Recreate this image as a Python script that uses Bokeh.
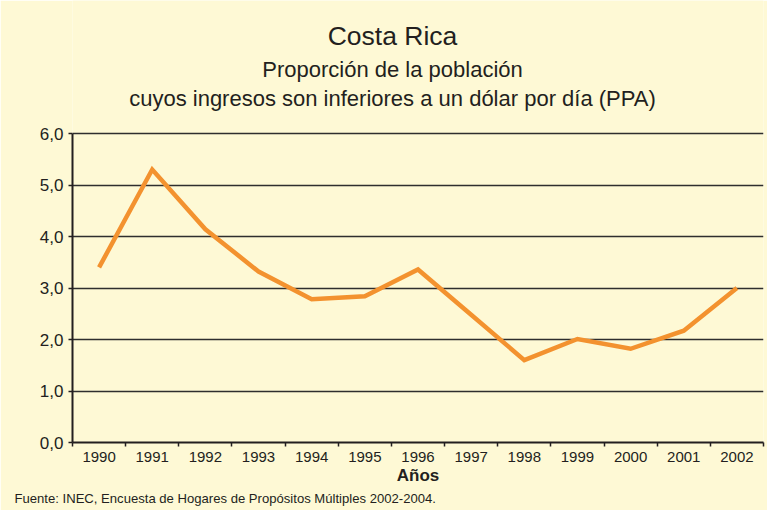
from bokeh.plotting import figure
from bokeh.models import FixedTicker, Range1d, Title, Label
from bokeh.embed import file_html
from bokeh.resources import INLINE

years = ["1990", "1991", "1992", "1993", "1994", "1995", "1996",
         "1997", "1998", "1999", "2000", "2001", "2002"]
values = [3.40, 5.30, 4.14, 3.32, 2.78, 2.84, 3.36, 2.48, 1.60, 2.01, 1.82, 2.17, 3.00]
y_ticks = [0, 1, 2, 3, 4, 5, 6]
y_tick_labels = ["0,0", "1,0", "2,0", "3,0", "4,0", "5,0", "6,0"]

title = "Costa Rica"
subtitle1 = "Proporción de la población"
subtitle2 = "cuyos ingresos son inferiores a un dólar por día (PPA)"
x_label = "Años"
source_note = "Fuente: INEC, Encuesta de Hogares de Propósitos Múltiples 2002-2004."

BG = "#FEF9D5"
INK = "#231f20"
FONT = "Liberation Sans"

idx = list(range(len(years)))

# frame spans the full height above the axis; the space above 6,0 holds the titles
FRAME_BOTTOM = 442
AXIS_TOP_PX = 133
y_top = 6 + 6 * AXIS_TOP_PX / (FRAME_BOTTOM - AXIS_TOP_PX)

p = figure(width=767, height=510,
           x_range=Range1d(-0.5, len(years) - 0.5),
           y_range=Range1d(0, y_top),
           output_backend="svg", toolbar_location=None,
           min_border_left=72, min_border_right=4,
           min_border_top=0, min_border_bottom=68)

p.background_fill_color = BG
p.border_fill_color = BG
p.outline_line_color = None

p.line(idx, values, line_color="#F3922F", line_width=4.5, line_join="miter")

# x axis
p.xaxis.ticker = FixedTicker(ticks=idx, minor_ticks=[i - 0.5 for i in range(len(years) + 1)])
p.xaxis.major_label_overrides = {i: y for i, y in enumerate(years)}
p.xaxis.major_tick_out = 0
p.xaxis.major_tick_in = 0
p.xaxis.minor_tick_out = 4
p.xaxis.minor_tick_in = 0
p.xaxis.minor_tick_line_color = INK
p.xaxis.minor_tick_line_width = 1.5
p.xaxis.major_label_standoff = 5
p.xaxis.major_label_text_font = FONT
p.xaxis.major_label_text_font_size = "15px"
p.xaxis.major_label_text_color = INK
p.xaxis.axis_label = x_label
p.xaxis.axis_label_text_font = FONT
p.xaxis.axis_label_text_font_style = "bold"
p.xaxis.axis_label_text_font_size = "17px"
p.xaxis.axis_label_text_color = INK
p.xaxis.axis_label_standoff = 1
p.xaxis.axis_line_color = INK
p.xaxis.axis_line_width = 2

# y axis
p.yaxis.ticker = FixedTicker(ticks=y_ticks, minor_ticks=[])
p.yaxis.bounds = (y_ticks[0], y_ticks[-1])
p.yaxis.major_label_overrides = {t: l for t, l in zip(y_ticks, y_tick_labels)}
p.yaxis.major_tick_out = 4
p.yaxis.major_tick_in = 0
p.yaxis.major_tick_line_color = INK
p.yaxis.major_tick_line_width = 1.5
p.yaxis.major_label_standoff = 5
p.yaxis.major_label_text_font = FONT
p.yaxis.major_label_text_font_size = "17px"
p.yaxis.major_label_text_color = INK
p.yaxis.axis_line_color = INK
p.yaxis.axis_line_width = 2

p.xgrid.visible = False
p.ygrid.grid_line_color = "#2e2e2e"
p.ygrid.grid_line_width = 1.5

# titles (screen offsets measured from the frame's bottom-left corner)
for txt, yy, size in [(title, 407, "26.5px"), (subtitle1, 373, "22px"), (subtitle2, 344, "22px")]:
    p.add_layout(Label(x=320, y=yy, x_units="screen", y_units="screen", text=txt,
                       text_align="center", text_baseline="alphabetic",
                       text_font=FONT, text_font_size=size, text_color=INK))

p.add_layout(Title(text=source_note, align="left", offset=-58, standoff=2,
                   text_font=FONT, text_font_size="13.1px",
                   text_font_style="normal", text_color=INK), "below")

open("out.html", "w").write(file_html(p, INLINE))
